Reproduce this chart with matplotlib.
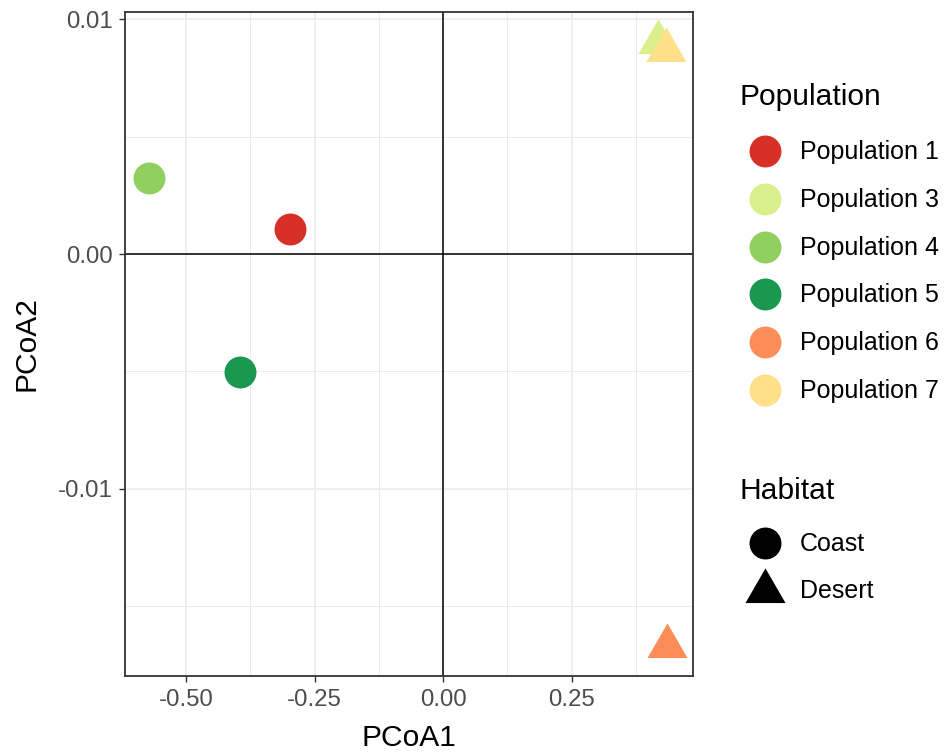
import matplotlib.pyplot as plt
from matplotlib.ticker import MultipleLocator
import numpy as np

plt.rcParams["font.family"] = ["Liberation Sans", "DejaVu Sans"]

# PCoA scores per population
populations = ["Population 1", "Population 3", "Population 4", "Population 5", "Population 6", "Population 7"]
habitat = ["Coast", "Desert", "Coast", "Coast", "Desert", "Desert"]
pcoa1 = [-0.298, 0.418, -0.572, -0.395, 0.436, 0.434]
pcoa2 = [0.00106, 0.00901, 0.00323, -0.00502, -0.01668, 0.00867]
colores = ["#D73027", "#D9EF8B", "#91CF60", "#1A9850", "#FC8D59", "#FEE08B"]

habitats = ["Coast", "Desert"]

# equilateral triangle like R's pch 17, centred on its centroid
tri = [(0, 1), (-0.866, -0.5), (0.866, -0.5)]
formas = {"Coast": ("o", 23), "Desert": (tri, 33.3)}

fig = plt.figure(figsize=(9.49, 7.55), dpi=100)
ax = fig.add_axes([125/949, 79/755, 568/949, 664/755])

ax.axhline(0, color="black", lw=1.1, zorder=1)
ax.axvline(0, color="black", lw=1.1, zorder=1)

for i in range(len(populations)):
    m, s = formas[habitat[i]]
    ax.plot(pcoa1[i], pcoa2[i], marker=m, markersize=s, color=colores[i],
            markeredgewidth=0, linestyle="none", zorder=3)

ax.set_xlim(-0.619, 0.486)
ax.set_ylim(-0.01796, 0.0103)
ax.xaxis.set_major_locator(MultipleLocator(0.25))
ax.xaxis.set_minor_locator(MultipleLocator(0.125))
ax.yaxis.set_major_locator(MultipleLocator(0.01))
ax.yaxis.set_minor_locator(MultipleLocator(0.005))
ax.xaxis.set_major_formatter(lambda v, p: f"{v:.2f}")
ax.yaxis.set_major_formatter(lambda v, p: f"{v:.2f}")

ax.grid(which="major", color="#EBEBEB", lw=1.2, zorder=0)
ax.grid(which="minor", color="#EBEBEB", lw=0.7, zorder=0)
ax.set_axisbelow(True)
ax.tick_params(which="major", length=4, width=1.0, color="#333333",
               labelcolor="#4D4D4D", labelsize=17.3, pad=5)
ax.tick_params(which="minor", length=0)
for sp in ax.spines.values():
    sp.set_color("#333333")
    sp.set_linewidth(1.3)

ax.set_xlabel("PCoA1", fontsize=21.6, labelpad=10)
ax.set_ylabel("PCoA2", fontsize=21.6, labelpad=12)

# legends drawn in pixel coordinates on a transparent overlay
lax = fig.add_axes([0, 0, 1, 1])
lax.set_xlim(0, 949)
lax.set_ylim(755, 0)
lax.axis("off")

lax.text(740, 97, "Population", fontsize=21.6, va="center", ha="left")
for i, nombre in enumerate(populations):
    y = 151 + i * 47.8
    lax.plot(765, y, marker="o", markersize=23, color=colores[i], markeredgewidth=0)
    lax.text(800, y + 1, nombre, fontsize=18, va="center", ha="left")

lax.text(740, 491, "Habitat", fontsize=21.6, va="center", ha="left")
for i, h in enumerate(habitats):
    y = 543 + i * 47.5
    m, s = formas[h]
    lax.plot(765, y, marker=m, markersize=s, color="black", markeredgewidth=0)
    lax.text(800, y + 1, h, fontsize=18, va="center", ha="left")

plt.savefig("out.png", dpi=100)
